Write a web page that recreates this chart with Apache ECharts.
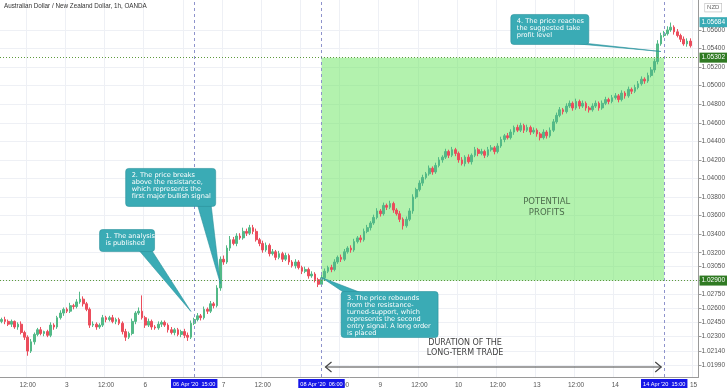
<!DOCTYPE html>
<html><head><meta charset="utf-8">
<script src="https://cdn.jsdelivr.net/npm/echarts@6/dist/echarts.min.js"></script>
<style>html,body{margin:0;padding:0;background:#fff}#c{width:728px;height:391px}</style>
</head><body><div id="c"></div>
<script>
// ---- data ----
const sessions = [
  ['2020-04-02', 4, 23], ['2020-04-03', 0, 20], ['2020-04-05', 21, 23],
  ['2020-04-06', 0, 23], ['2020-04-07', 0, 23], ['2020-04-08', 0, 23], ['2020-04-09', 0, 23],
  ['2020-04-10', 0, 20], ['2020-04-12', 21, 23], ['2020-04-13', 0, 23], ['2020-04-14', 0, 23],
  ['2020-04-15', 0, 1]
];
const firstOpen = 1.0246;
const closes = [
 1.0248,1.0246,1.0243,1.0246,1.0240,1.0243,1.0234,1.0229,1.0214,1.0224,
 1.0232,1.0237,1.0233,1.0235,1.0231,1.0242,1.0240,1.0250,1.0255,1.0259,
 1.0257,1.0263,1.0262,1.0267,1.0270,1.0265,1.0259,1.0242,1.0243,1.0240,
 1.0242,1.0250,1.0248,1.0250,1.0246,1.0248,1.0244,1.0235,1.0229,1.0233,
 1.0246,1.0255,1.0257,1.0250,1.0242,1.0246,1.0240,1.0239,1.0243,1.0245,
 1.0242,1.0237,1.0234,1.0237,1.0232,1.0235,1.0231,1.0229,1.0244,1.0248,
 1.0252,1.0250,1.0259,1.0257,1.0265,1.0263,1.0282,1.0313,1.0310,1.0325,
 1.0334,1.0330,1.0338,1.0336,1.0343,1.0341,1.0347,1.0343,1.0334,1.0330,
 1.0323,1.0328,1.0319,1.0321,1.0315,1.0319,1.0313,1.0317,1.0310,1.0306,
 1.0310,1.0304,1.0300,1.0302,1.0295,1.0297,1.0291,1.0286,1.0293,1.0300,
 1.0304,1.0302,1.0310,1.0315,1.0313,1.0321,1.0325,1.0323,1.0332,1.0336,
 1.0334,1.0343,1.0347,1.0352,1.0358,1.0365,1.0362,1.0371,1.0369,1.0373,
 1.0366,1.0362,1.0356,1.0349,1.0356,1.0365,1.0380,1.0388,1.0395,1.0401,
 1.0405,1.0411,1.0407,1.0414,1.0420,1.0423,1.0429,1.0425,1.0431,1.0427,
 1.0420,1.0416,1.0423,1.0418,1.0425,1.0431,1.0427,1.0429,1.0425,1.0431,
 1.0433,1.0429,1.0435,1.0442,1.0446,1.0444,1.0450,1.0455,1.0452,1.0457,
 1.0452,1.0455,1.0450,1.0452,1.0448,1.0444,1.0450,1.0446,1.0452,1.0461,
 1.0468,1.0474,1.0472,1.0478,1.0481,1.0476,1.0483,1.0478,1.0481,1.0476,
 1.0474,1.0478,1.0481,1.0476,1.0481,1.0485,1.0483,1.0487,1.0489,1.0485,
 1.0492,1.0489,1.0496,1.0494,1.0498,1.0502,1.0507,1.0505,1.0511,1.0517,
 1.0526,1.0545,1.0554,1.0556,1.0560,1.0563,1.0558,1.0554,1.0550,1.0545,
 1.0548,1.0543
];
// wick lengths beyond the body, in units of 0.0001
const highWick = [
 2,3,2,2,1,2,3,2,2,3, 2,2,3,1,2,3,2,2,3,2, 2,3,2,3,8,3,2,2,3,2, 2,3,2,2,3,2,2,2,3,2,
 3,2,4,17,2,3,2,2,3,2, 2,2,3,2,2,2,3,3,3,2, 3,2,3,2,3,2,3,3,4,3, 4,3,3,3,4,3,3,3,3,2,
 3,3,2,3,2,3,2,3,2,2, 3,2,2,3,2,3,2,2,3,3, 2,3,3,2,3,3,2,3,3,2, 3,3,3,2,3,3,2,3,2,3,
 2,2,3,2,3,3,3,2,3,3, 2,3,2,3,3,2,3,2,3,2, 2,3,2,3,2,3,2,3,2,3, 3,2,3,3,2,3,3,2,3,3,
 2,3,2,3,2,2,3,2,3,3, 3,3,2,3,3,2,3,2,3,2, 2,3,3,2,3,3,2,3,3,2, 3,2,3,2,3,3,3,2,3,3,
 3,4,3,3,4,5,2,3,2,3,3,3
];
const lowWick = [
 2,3,2,3,2,3,2,3,5,2, 3,2,2,3,2,2,3,2,2,3, 2,2,3,2,2,3,2,3,2,3, 2,2,3,2,2,3,2,3,4,2,
 2,3,2,2,3,2,3,2,2,3, 2,3,2,3,2,3,3,4,2,2, 2,3,2,3,2,3,2,3,3,2, 3,2,3,2,2,3,2,3,2,3,
 3,2,3,2,3,2,3,2,3,2, 3,2,3,2,3,2,3,3,2,2, 2,3,2,2,3,2,2,3,2,2, 3,2,2,3,2,2,3,2,3,2,
 3,2,3,4,2,2,3,2,2,3, 2,2,3,2,2,3,2,3,2,3, 3,2,3,2,3,2,3,2,3,2, 2,3,2,2,3,2,2,3,2,2,
 3,2,3,2,3,3,2,3,2,2, 2,2,3,2,2,3,2,3,2,3, 3,2,2,3,2,2,3,2,2,3, 2,3,2,3,2,2,2,3,2,2,
 3,3,2,2,2,2,3,2,3,2,3,2
];
const yTicks = [1.056,1.054,1.052,1.050,1.048,1.046,1.044,1.042,1.040,1.038,1.036,1.034,1.032,
  1.0305,1.029,1.0275,1.026,1.0245,1.023,1.0214,1.0199];
const yMin = 1.01861, yMax = 1.05923;
const resistance = 1.02900, target = 1.05302, lastPrice = 1.05684;
const publishTime = '2020-04-06 15:00', entryTime = '2020-04-08 06:00', exitTime = '2020-04-14 15:00';
const timeTags = ["06 Apr '20  15:00", "08 Apr '20  06:00", "14 Apr '20  15:00"];

// ---- build ----
const categories = [];
sessions.forEach(([d, h0, h1]) => { for (let h = h0; h <= h1; h++) categories.push(d + ' ' + String(h).padStart(2, '0') + ':00'); });
const candles = closes.map((c, i) => {
  const o = i === 0 ? firstOpen : closes[i - 1];
  return [o, c, +(Math.min(o, c) - lowWick[i] * 1e-4).toFixed(5), +(Math.max(o, c) + highWick[i] * 1e-4).toFixed(5)];
});
const isMajor = (idx, v) => { const h = (v || categories[idx]).slice(11, 13); return h === '00' || h === '12'; };

const UP = '#53b987', DOWN = '#eb4d5c', TEAL = '#3aabb5', GREEN = '#2f7a22', BLUE = '#1616e8';
const vLine = (t, tag) => ({ xAxis: t, label: { show: true, position: 'start', formatter: tag, distance: 2,
  color: '#fff', backgroundColor: BLUE, padding: [2, 2, 1, 2], fontSize: 5.6, fontFamily: 'Liberation Sans' },
  lineStyle: { color: '#8e93cc', type: [3, 3], width: 1 } });
const hLine = (v, bg, showLine) => ({ yAxis: v, label: { show: true, position: 'end', distance: 1,
  formatter: v.toFixed(5), color: '#fff', backgroundColor: bg, padding: [2, 2, 1, 2], fontSize: 6.5, fontFamily: 'Liberation Sans' },
  lineStyle: { color: showLine ? '#5e9a3c' : 'rgba(0,0,0,0)', type: [1, 2], width: 1 } });

const chart = echarts.init(document.getElementById('c'), null, { renderer: 'canvas' });
const option = {
  animation: false,
  backgroundColor: '#fff',
  title: { text: 'Australian Dollar / New Zealand Dollar, 1h, OANDA', left: 4, top: 3, padding: 0,
    textStyle: { fontSize: 6.3, fontWeight: 'normal', color: '#333', fontFamily: 'Liberation Sans' } },
  grid: { left: -2, right: 26, top: 0, bottom: 14 },
  xAxis: {
    type: 'category', data: categories, boundaryGap: true,
    axisLine: { lineStyle: { color: '#9a9a9a' } }, axisTick: { show: false },
    axisLabel: { interval: isMajor, color: '#555', fontSize: 6.5, fontFamily: 'Liberation Sans', margin: 5,
      formatter: v => v.slice(11, 13) === '00' ? String(parseInt(v.slice(8, 10), 10)) : '12:00' },
    splitLine: { show: true, interval: isMajor, lineStyle: { color: '#eef0f5', width: 1 } }
  },
  yAxis: {
    type: 'value', position: 'right', min: yMin, max: yMax, scale: true,
    axisLine: { show: true, lineStyle: { color: '#9a9a9a' } },
    axisTick: { show: true, length: 3, customValues: yTicks, lineStyle: { color: '#9a9a9a' } },
    axisLabel: { customValues: yTicks, formatter: v => v.toFixed(5), color: '#555', fontSize: 6.5, fontFamily: 'Liberation Sans', margin: 3 },
    splitLine: { show: true, lineStyle: { color: '#eef0f5' } }
  },
  series: [{
    type: 'candlestick', data: candles, barWidth: 2.2, clip: false,
    itemStyle: { color: UP, color0: DOWN, borderColor: UP, borderColor0: DOWN, borderWidth: 1 },
    markArea: { silent: true, itemStyle: { color: 'rgba(110,230,100,0.52)' },
      data: [[{ xAxis: entryTime, yAxis: resistance }, { xAxis: exitTime, yAxis: target }]] },
    markLine: { silent: true, symbol: ['none', 'none'], animation: false, precision: 5,
      data: [vLine(publishTime, timeTags[0]), vLine(entryTime, timeTags[1]), vLine(exitTime, timeTags[2]),
        hLine(target, GREEN, true), hLine(resistance, GREEN, true), hLine(lastPrice, TEAL, false)] },
    markPoint: { silent: true, symbol: 'rect', symbolSize: 1, itemStyle: { color: 'rgba(0,0,0,0)' },
      data: [
        { coord: ['2020-04-13 03:00', 1.03687], label: { show: true, position: 'inside', formatter: 'POTENTIAL\nPROFITS',
          color: '#4d6d4d', fontSize: 8.5, lineHeight: 11, fontFamily: 'DejaVu Sans', align: 'center' } },
        { coord: ['2020-04-10 02:00', 1.02179], label: { show: true, position: 'inside', formatter: 'DURATION OF THE\nLONG-TERM TRADE',
          color: '#444', fontSize: 8, lineHeight: 10, fontFamily: 'DejaVu Sans', align: 'center' } }
      ] }
  }]
};
chart.setOption(option);

// ---- annotations anchored in data space ----
const notes = [
  { text: '1. The analysis\nis published', box: ['2020-04-03 10:00', 1.03450], w: 55, h: 22,
    tip: ['2020-04-06 14:00', 1.02567], side: 'bottom', base: [0.72, 0.95] },
  { text: '2. The price breaks\nabove the resistance,\nwhich represents the\nfirst major bullish signal', box: ['2020-04-03 18:00', 1.04108], w: 90, h: 38,
    tip: ['2020-04-06 23:00', 1.02868], side: 'bottom', base: [0.8, 0.95] },
  { text: '3. The price rebounds\nfrom the resistance-\nturned-support, which\nrepresents the second\nentry signal. A long order\nis placed', box: ['2020-04-08 12:00', 1.02782], w: 97, h: 46,
    tip: ['2020-04-08 06:00', 1.02933], side: 'top', base: [0.03, 0.2] },
  { text: '4. The price reaches\nthe suggested take\nprofit level', box: ['2020-04-10 16:00', 1.05767], w: 78, h: 30,
    tip: ['2020-04-14 14:00', 1.05368], side: 'bottom', base: [0.8, 0.98] }
];
const toPx = (cat, v) => chart.convertToPixel({ xAxisIndex: 0, yAxisIndex: 0 }, [categories.indexOf(cat), v]);
const graphics = [];
notes.forEach(n => {
  const [bx, by] = toPx(n.box[0], n.box[1]);
  const [tx, ty] = toPx(n.tip[0], n.tip[1]);
  const ey = n.side === 'bottom' ? by + n.h - 1 : by + 1;
  graphics.push({ type: 'polygon', z: 100, shape: { points: [[bx + n.w * n.base[0], ey], [tx, ty], [bx + n.w * n.base[1], ey]] },
    style: { fill: TEAL, stroke: '#2b929c', lineWidth: 0.6 } });
  graphics.push({ type: 'rect', z: 101, shape: { x: bx, y: by, width: n.w, height: n.h, r: 3 },
    style: { fill: TEAL, stroke: '#2b929c', lineWidth: 0.6 } });
  graphics.push({ type: 'text', z: 102, x: bx + 6, y: by + 3.5,
    style: { text: n.text, fill: '#fff', fontSize: 6.6, lineHeight: 6.9, fontFamily: 'DejaVu Sans' } });
});
// duration arrow
const arrY = 1.01969;
const [ax1, ay] = toPx(entryTime, arrY);
const [ax2] = toPx(exitTime, arrY);
const l = ax1 + 4, r = ax2 - 3;
graphics.push({ type: 'line', z: 100, shape: { x1: l, y1: ay, x2: r, y2: ay }, style: { stroke: '#444', lineWidth: 1.2 } });
graphics.push({ type: 'polyline', z: 100, shape: { points: [[l + 6, ay - 5], [l, ay], [l + 6, ay + 5]] }, style: { stroke: '#444', lineWidth: 1.2, fill: null } });
graphics.push({ type: 'polyline', z: 100, shape: { points: [[r - 6, ay - 5], [r, ay], [r - 6, ay + 5]] }, style: { stroke: '#444', lineWidth: 1.2, fill: null } });
// currency tag
graphics.push({ type: 'text', z: 100, right: 6, top: 3,
  style: { text: 'NZD', fill: '#666', fontSize: 6, fontFamily: 'Liberation Sans', backgroundColor: '#fff',
    borderColor: '#bbb', borderWidth: 0.6, padding: [1, 2] } });
chart.setOption({ graphic: graphics });
</script>
</body></html>
